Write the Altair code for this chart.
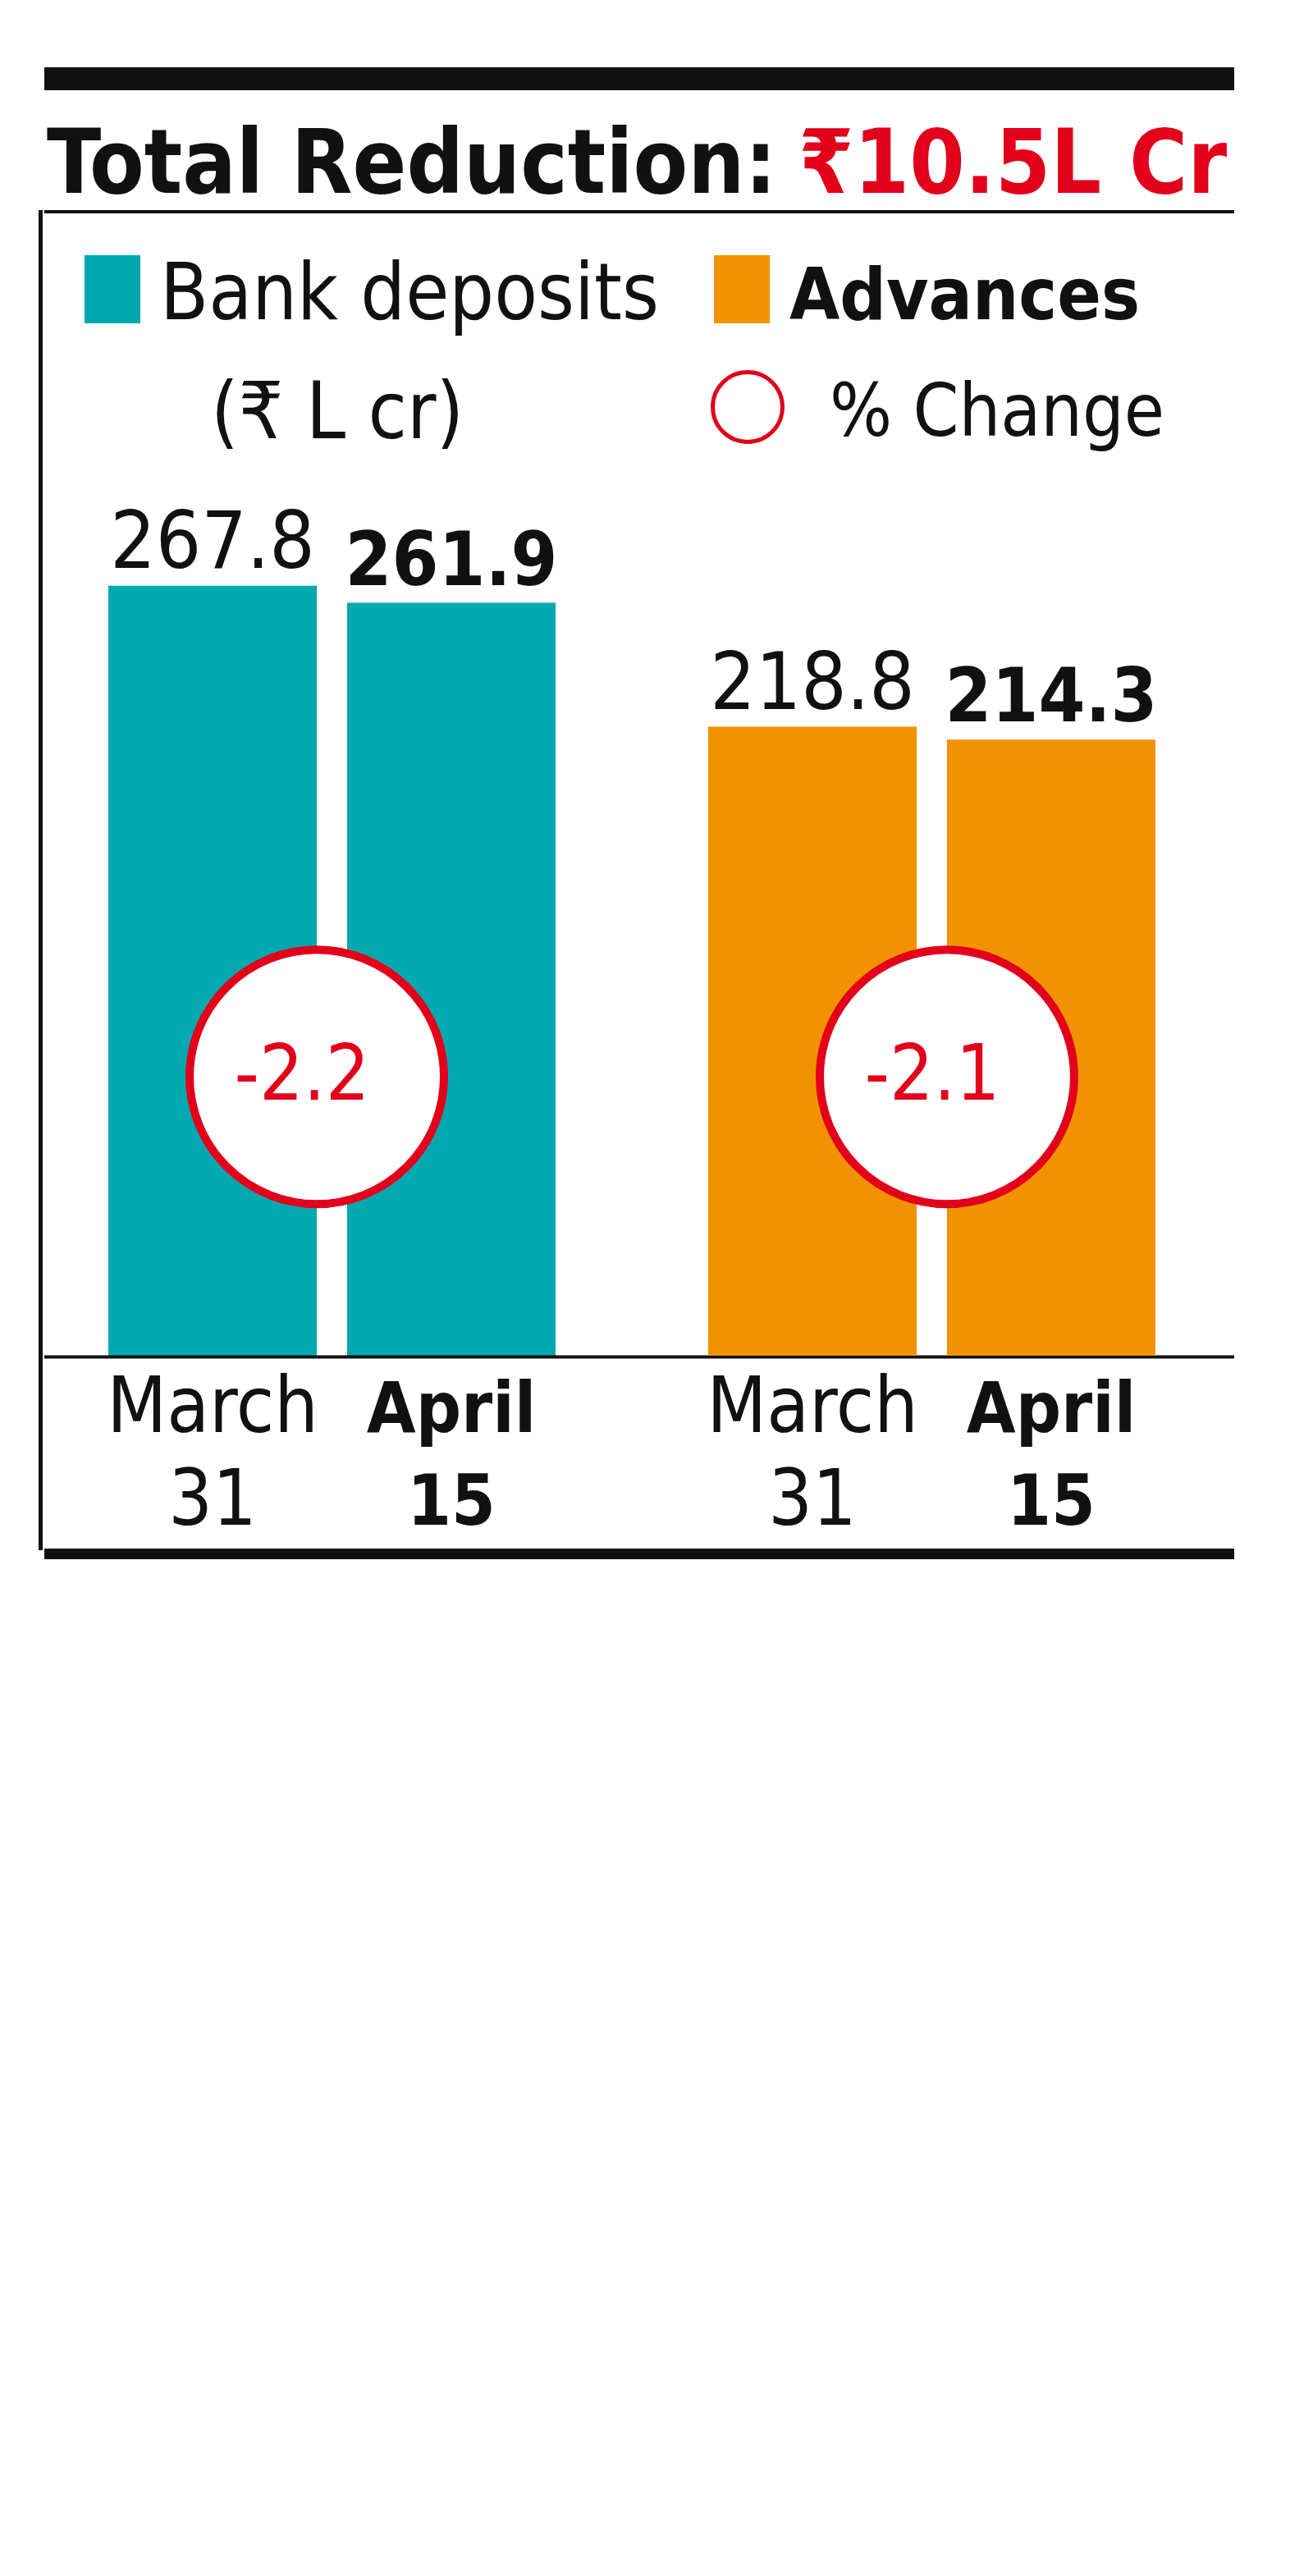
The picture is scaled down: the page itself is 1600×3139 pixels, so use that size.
import altair as alt
import pandas as pd

# ---------------- data ----------------
groups = ["Bank deposits", "Advances"]
dates = ["March 31", "April 15"]
date_month = ["March", "April"]
date_day = ["31", "15"]
bank_deposits = [267.8, 261.9]
advances = [218.8, 214.3]
pct_change = ["-2.2", "-2.1"]
title_black = "Total Reduction:"
title_red = "₹10.5L Cr"
unit_label = "(₹ L cr)"
change_label = "% Change"

# ---------------- styles ----------------
TEAL = "#00a8b0"
ORANGE = "#f39200"
RED = "#e2001a"
INK = "#111111"
FONT = "DejaVu Sans Condensed, DejaVu Sans, sans-serif"
CIRCLE_LEVEL = 97  # vertical placement of the % change badges (value units)
PANEL_W = 545
PANEL_H = 1396
Y_MAX = 398.5

one = pd.DataFrame({"a": [0]})


def hrule(x1, x2, y, w, color=INK):
    return alt.Chart(one).mark_rule(color=color, strokeWidth=w).encode(
        x=alt.value(x1), x2=alt.value(x2), y=alt.value(y))


def vrule(x, y1, y2, w, color=INK):
    return alt.Chart(one).mark_rule(color=color, strokeWidth=w).encode(
        x=alt.value(x), y=alt.value(y1), y2=alt.value(y2))


def label(text, x, y, size, weight="normal", color=INK, align="left"):
    return alt.Chart(pd.DataFrame({"t": [text]})).mark_text(
        font=FONT, fontSize=size, fontWeight=weight, align=align,
        baseline="alphabetic", color=color
    ).encode(x=alt.value(x), y=alt.value(y), text="t:N")


def panel(values, color, pct, anchor, band_pos, extra=()):
    df = pd.DataFrame({
        "date": dates,
        "value": values,
        "month": date_month,
        "day": date_day,
        "base": [0] * len(dates),
    })
    cdf = pd.DataFrame({"pct": [pct], "level": [CIRCLE_LEVEL], "anchor": [anchor]})
    xs = alt.Scale(domain=dates, paddingInner=0.127, paddingOuter=0)
    ys = alt.Scale(domain=[0, Y_MAX], nice=False, zero=True)
    X = alt.X("date:N", scale=xs, axis=None, sort=dates)
    Y = alt.Y("value:Q", scale=ys, axis=None)
    YB = alt.Y("base:Q", scale=ys, axis=None)

    layers = [alt.Chart(df).mark_bar(color=color).encode(x=X, y=Y)]
    for d, w, vs, ls in zip(dates, ["normal", "bold"], [97, 91], [94, 86]):
        sub = alt.Chart(df).transform_filter(alt.datum.date == d)
        layers.append(sub.mark_text(
            font=FONT, fontSize=vs, fontWeight=w, baseline="alphabetic", dy=-22, color=INK
        ).encode(x=X, y=Y, text=alt.Text("value:Q", format=".1f")))
        layers.append(sub.mark_text(
            font=FONT, fontSize=ls, fontWeight=w, baseline="alphabetic", dy=93, color=INK
        ).encode(x=X, y=YB, text="month:N"))
        layers.append(sub.mark_text(
            font=FONT, fontSize=ls, fontWeight=w, baseline="alphabetic", dy=206, color=INK
        ).encode(x=X, y=YB, text="day:N"))
    CX = alt.X("anchor:N", bandPosition=band_pos, scale=xs, axis=None, sort=dates)
    CY = alt.Y("level:Q", scale=ys, axis=None)
    layers.append(alt.Chart(cdf).mark_circle(
        size=96100, color="white", stroke=RED, strokeWidth=10, opacity=1
    ).encode(x=CX, y=CY))
    layers.append(alt.Chart(cdf).mark_text(
        font=FONT, fontSize=94, color=RED, baseline="middle", dx=-18
    ).encode(x=CX, y=CY, text="pct:N"))
    return alt.layer(*layers, *list(extra)).properties(width=PANEL_W, height=PANEL_H)


# frame, title and legend live in the left panel (coordinates relative to it)
frame = [
    vrule(-90, -190, -185, 1, "white"),  # invisible anchor fixing the page origin
    hrule(-78, 1372, -160, 28),          # top thick bar
    hrule(-78, 1372, 2, 4),              # thin line under title
    vrule(-82.5, 0, 1633, 5),            # left border
    hrule(-78, 1372, 1397.5, 4),         # baseline
    hrule(-78, 1372, 1637.5, 13),        # bottom thick bar
    label(title_black, -75, -21, 108, "bold"),
    label(title_red, 841, -21, 108, "bold", RED),
    vrule(5, 55, 138, 68, TEAL),         # legend swatch
    vrule(772, 55, 138, 68, ORANGE),     # legend swatch
    label(groups[0], 63, 133, 96),
    label(unit_label, 279, 278, 96, align="center"),
    label(groups[1], 830, 133, 88, "bold"),
    alt.Chart(one).mark_circle(size=7225, color="white", stroke=RED, strokeWidth=5,
                               opacity=1).encode(x=alt.value(779), y=alt.value(240)),
    label(change_label, 879, 275, 89),
]

left = panel(bank_deposits, TEAL, pct_change[0], dates[0], 1.0, extra=frame)
right = panel(advances, ORANGE, pct_change[1], dates[1], 0.0)

chart = alt.hconcat(left, right, spacing=186).properties(
    padding={"left": 32, "top": 57, "right": 20, "bottom": 20},
    bounds="flush",
    background="white",
).configure_view(stroke=None)

chart.save("out.html", embed_options={"renderer": "svg", "actions": False})
